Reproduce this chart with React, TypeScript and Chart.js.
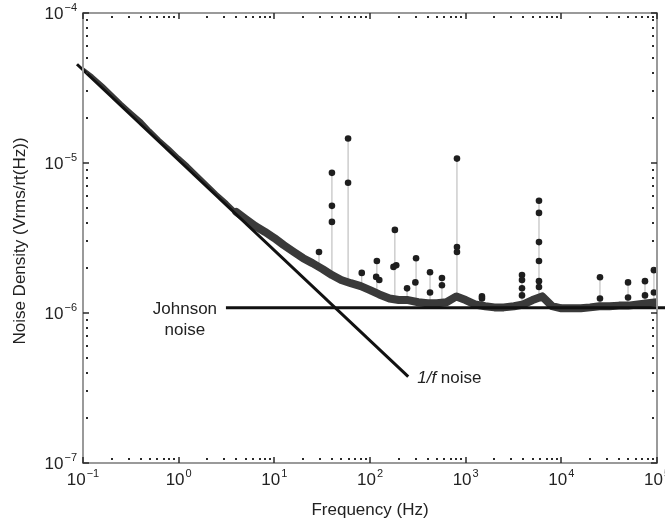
import React, { useEffect, useRef } from "react";
import { Chart, registerables } from "chart.js";

Chart.register(...registerables);

// ---- Data ----
const bandFreq = [
  0.1, 0.125, 0.16, 0.2, 0.25, 0.32, 0.4, 0.5, 0.63, 0.8,
  1, 1.25, 1.6, 2, 2.5, 3.2, 4, 5, 6.3, 8,
  10, 12.5, 16, 20, 25, 32, 40, 50, 63, 80,
  100, 125, 160, 200, 250, 320, 400, 500, 630, 800,
  1000, 1250, 1600, 2000, 2500, 3200, 4000, 5000, 6300, 8000,
  10000, 12500, 16000, 20000, 25000, 32000, 40000, 50000, 63000, 80000, 100000,
];
const bandValue = [
  4.22e-5, 3.79e-5, 3.3e-5, 2.87e-5, 2.5e-5, 2.17e-5, 1.92e-5, 1.65e-5, 1.43e-5, 1.25e-5,
  1.09e-5, 9.6e-6, 8.22e-6, 7.16e-6, 6.23e-6, 5.42e-6, 4.72e-6, 4.24e-6, 3.8e-6, 3.47e-6,
  3.16e-6, 2.84e-6, 2.55e-6, 2.32e-6, 2.15e-6, 1.96e-6, 1.79e-6, 1.66e-6, 1.58e-6, 1.51e-6,
  1.42e-6, 1.33e-6, 1.25e-6, 1.22e-6, 1.22e-6, 1.18e-6, 1.16e-6, 1.16e-6, 1.18e-6, 1.29e-6,
  1.22e-6, 1.14e-6, 1.11e-6, 1.09e-6, 1.09e-6, 1.11e-6, 1.14e-6, 1.22e-6, 1.29e-6, 1.11e-6,
  1.075e-6, 1.075e-6, 1.075e-6, 1.09e-6, 1.11e-6, 1.11e-6, 1.12e-6, 1.12e-6, 1.14e-6, 1.16e-6, 1.18e-6,
];

const spikeFreq = [29.3, 40, 59, 82, 118, 182, 244, 303, 424, 565, 811, 1480, 3880, 5840, 25350, 49800, 74900, 92900];
const spikeBase = [2.1e-6, 1.85e-6, 1.6e-6, 1.5e-6, 1.33e-6, 1.24e-6, 1.22e-6, 1.18e-6, 1.16e-6, 1.17e-6, 1.29e-6, 1.12e-6, 1.14e-6, 1.29e-6, 1.11e-6, 1.12e-6, 1.15e-6, 1.17e-6];
const spikeTop = [2.55e-6, 8.6e-6, 1.455e-5, 1.85e-6, 2.22e-6, 3.58e-6, 1.46e-6, 2.32e-6, 1.87e-6, 1.71e-6, 1.07e-5, 1.29e-6, 1.79e-6, 5.6e-6, 1.73e-6, 1.6e-6, 1.63e-6, 1.93e-6];

const dotFreq = [
  29.3, 40, 40, 40, 59, 59, 82, 118, 116, 125, 182, 176, 188, 244, 303, 298,
  424, 424, 565, 565, 811, 811, 811, 1480, 1480, 3880, 3880, 3880, 3880,
  5840, 5840, 5840, 5840, 5840, 5840, 25350, 25350, 49800, 49800, 74900, 74900, 92900, 92900,
];
const dotValue = [
  2.55e-6, 8.6e-6, 5.18e-6, 4.05e-6, 1.455e-5, 7.38e-6, 1.85e-6, 2.22e-6, 1.74e-6, 1.66e-6, 3.58e-6, 2.03e-6, 2.08e-6, 1.46e-6, 2.32e-6, 1.6e-6,
  1.87e-6, 1.37e-6, 1.71e-6, 1.53e-6, 1.07e-5, 2.75e-6, 2.55e-6, 1.29e-6, 1.25e-6, 1.79e-6, 1.66e-6, 1.46e-6, 1.31e-6,
  5.6e-6, 4.65e-6, 2.97e-6, 2.22e-6, 1.63e-6, 1.49e-6, 1.73e-6, 1.25e-6, 1.6e-6, 1.27e-6, 1.63e-6, 1.31e-6, 1.93e-6, 1.37e-6,
];

const flickerFreq = [0.0865, 251];
const flickerValue = [4.555e-5, 3.77e-7];
const johnsonFreq = [3.12, 125000];
const johnsonValue = [1.082e-6, 1.082e-6];

const xTickExps = [-1, 0, 1, 2, 3, 4, 5];
const yTickExps = [-4, -5, -6, -7];
const xTitle = "Frequency (Hz)";
const yTitle = "Noise Density (Vrms/rt(Hz))";

const FONT = "'Liberation Sans', Arial, Helvetica, sans-serif";

const supText = (e: number) => (e < 0 ? "\u2212" + Math.abs(e) : String(e));

const decorPlugin = {
  id: "decor",
  afterDatasetsDraw(chart: any) {
    const { ctx, chartArea: a, scales } = chart;
    const x = scales.x;
    const y = scales.y;
    ctx.save();
    // frame
    ctx.strokeStyle = "#9a9a9a";
    ctx.lineWidth = 2;
    ctx.strokeRect(a.left, a.top, a.right - a.left, a.bottom - a.top);

    // minor ticks (dots)
    ctx.fillStyle = "#2a2a2a";
    for (let d = -1; d < 5; d++) {
      for (let m = 2; m <= 9; m++) {
        const px = Math.round(x.getPixelForValue(m * Math.pow(10, d)));
        ctx.fillRect(px - 1, a.bottom - 5, 2, 2);
        ctx.fillRect(px - 1, a.top + 3, 2, 2);
      }
    }
    for (let d = -7; d < -4; d++) {
      for (let m = 2; m <= 9; m++) {
        const py = Math.round(y.getPixelForValue(m * Math.pow(10, d)));
        ctx.fillRect(a.left + 3, py - 1, 2, 2);
        ctx.fillRect(a.right - 5, py - 1, 2, 2);
      }
    }
    // major ticks
    ctx.strokeStyle = "#2a2a2a";
    ctx.lineWidth = 1.5;
    ctx.beginPath();
    for (const e of xTickExps) {
      const px = Math.round(x.getPixelForValue(Math.pow(10, e)));
      ctx.moveTo(px, a.bottom);
      ctx.lineTo(px, a.bottom - 6);
      ctx.moveTo(px, a.top);
      ctx.lineTo(px, a.top + 6);
    }
    for (const e of yTickExps) {
      const py = Math.round(y.getPixelForValue(Math.pow(10, e)));
      ctx.moveTo(a.left, py);
      ctx.lineTo(a.left + 6, py);
      ctx.moveTo(a.right, py);
      ctx.lineTo(a.right - 6, py);
    }
    ctx.stroke();

    // tick labels
    const baseFont = `17px ${FONT}`;
    const supFont = `11px ${FONT}`;
    ctx.fillStyle = "#222";
    ctx.textBaseline = "alphabetic";
    ctx.textAlign = "left";
    for (const e of xTickExps) {
      const px = x.getPixelForValue(Math.pow(10, e));
      ctx.font = baseFont;
      const w1 = ctx.measureText("10").width;
      ctx.font = supFont;
      const s = supText(e);
      const w2 = ctx.measureText(s).width;
      const start = px - (w1 + w2 + 1) / 2;
      const by = a.bottom + 22;
      ctx.font = baseFont;
      ctx.fillText("10", start, by);
      ctx.font = supFont;
      ctx.fillText(s, start + w1 + 1, by - 8);
    }
    for (const e of yTickExps) {
      const py = y.getPixelForValue(Math.pow(10, e));
      ctx.font = baseFont;
      const w1 = ctx.measureText("10").width;
      ctx.font = supFont;
      const s = supText(e);
      const w2 = ctx.measureText(s).width;
      const end = a.left - 6;
      const start = end - w2 - 1 - w1;
      ctx.font = baseFont;
      ctx.fillText("10", start, py + 6);
      ctx.font = supFont;
      ctx.fillText(s, start + w1 + 1, py - 2);
    }

    // axis titles
    ctx.font = `17px ${FONT}`;
    ctx.textAlign = "center";
    ctx.fillText(xTitle, (a.left + a.right) / 2, a.bottom + 52);
    ctx.save();
    ctx.translate(20, (a.top + a.bottom) / 2 + 3);
    ctx.rotate(-Math.PI / 2);
    ctx.textBaseline = "middle";
    ctx.fillText(yTitle, 0, 0);
    ctx.restore();

    // annotations
    const jx = x.getPixelForValue(johnsonFreq[0]);
    const jy = y.getPixelForValue(johnsonValue[0]);
    ctx.font = `17px ${FONT}`;
    ctx.textAlign = "center";
    ctx.textBaseline = "alphabetic";
    ctx.fillText("Johnson", jx - 41, jy + 6);
    ctx.fillText("noise", jx - 41, jy + 27);

    const fx = x.getPixelForValue(flickerFreq[1]);
    const fy = y.getPixelForValue(flickerValue[1]);
    ctx.textAlign = "left";
    ctx.font = `italic 17px ${FONT}`;
    ctx.fillText("1/f", fx + 9, fy + 6);
    const wi = ctx.measureText("1/f").width;
    ctx.font = `17px ${FONT}`;
    ctx.fillText(" noise", fx + 9 + wi, fy + 6);

    ctx.restore();
  },
};

export default function App() {
  const ref = useRef<HTMLCanvasElement | null>(null);

  useEffect(() => {
    if (!ref.current) return;
    const band = bandFreq.map((f, i) => ({ x: f, y: bandValue[i] }));
    const stems: { x: number; y: number | null }[] = [];
    spikeFreq.forEach((f, i) => {
      stems.push({ x: f, y: spikeBase[i] });
      stems.push({ x: f, y: spikeTop[i] });
      stems.push({ x: f, y: null });
    });
    const dots = dotFreq.map((f, i) => ({ x: f, y: dotValue[i] }));
    const flicker = flickerFreq.map((f, i) => ({ x: f, y: flickerValue[i] }));
    const johnson = johnsonFreq.map((f, i) => ({ x: f, y: johnsonValue[i] }));

    const chart = new Chart(ref.current, {
      type: "line",
      data: {
        datasets: [
          {
            label: "1/f noise",
            data: flicker,
            borderColor: "#111",
            borderWidth: 3,
            pointRadius: 0,
            clip: false,
            order: 0,
          } as any,
          {
            label: "Johnson noise",
            data: johnson,
            borderColor: "#111",
            borderWidth: 3,
            pointRadius: 0,
            clip: false,
            order: 1,
          } as any,
          {
            label: "spike points",
            data: dots,
            showLine: false,
            pointRadius: 3.3,
            pointBackgroundColor: "#1e1e1e",
            pointBorderColor: "#1e1e1e",
            pointBorderWidth: 0,
            order: 2,
          } as any,
          {
            label: "spectrum",
            data: band,
            borderColor: "#3a3a3a",
            borderWidth: 7,
            borderCapStyle: "round",
            borderJoinStyle: "round",
            pointRadius: 0,
            segment: {
              borderWidth: (c: any) => (c.p0.parsed.x < 4 ? 3.5 : 8),
            },
            order: 3,
          } as any,
          {
            label: "stems",
            data: stems,
            borderColor: "#b4b4b4",
            borderWidth: 1,
            pointRadius: 0,
            spanGaps: false,
            order: 4,
          } as any,
        ],
      },
      options: {
        responsive: false,
        animation: false,
        devicePixelRatio: 1,
        events: [],
        layout: { padding: { left: 83, right: 8, top: 13, bottom: 60 } },
        plugins: { legend: { display: false }, tooltip: { enabled: false } },
        scales: {
          x: { type: "logarithmic", min: 0.1, max: 1e5, display: false },
          y: { type: "logarithmic", min: 1e-7, max: 1e-4, display: false },
        },
      },
      plugins: [decorPlugin],
    });
    return () => chart.destroy();
  }, []);

  return (
    <div style={{ position: "absolute", left: 0, top: 0, width: 665, height: 523, background: "#fff" }}>
      <canvas ref={ref} width={665} height={523} style={{ display: "block" }} />
    </div>
  );
}
